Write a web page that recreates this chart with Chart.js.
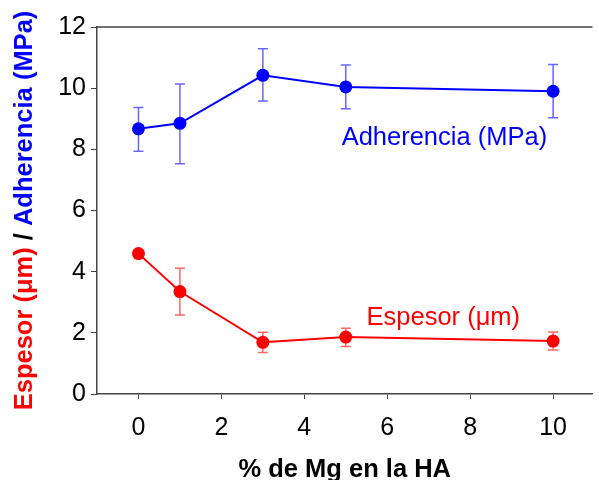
<!DOCTYPE html>
<html>
<head>
  <title>Espesor / Adherencia vs % Mg</title>
  <meta charset="UTF-8">
  <script src="https://cdn.jsdelivr.net/npm/chart.js"></script>
  <style>
    body {
      margin: 0;
      padding: 0;
      background-color: white;
    }
    #chart {
      display: block;
    }
  </style>
</head>
<body>
  <canvas id="chart" width="599" height="480"></canvas>

  <script>
    // Data
    const mgPct = [0, 1, 3, 5, 10];
    const adherencia = [8.67, 8.85, 10.42, 10.04, 9.90];
    const adherenciaHi = [9.37, 10.14, 11.29, 10.76, 10.77];
    const adherenciaLo = [7.94, 7.53, 9.58, 9.33, 9.03];
    const espesor = [4.59, 3.35, 1.69, 1.86, 1.73];
    const espesorHi = [null, 4.11, 2.02, 2.15, 2.03];
    const espesorLo = [null, 2.58, 1.36, 1.55, 1.44];
    const xTicks = [0, 2, 4, 6, 8, 10];
    const yTicks = [0, 2, 4, 6, 8, 10, 12];

    const BLUE = '#0000ff';
    const RED = '#ff0000';
    const FONT = 'Arial, "Liberation Sans", Helvetica, sans-serif';

    // error bars, frame line, series labels and the two-colour y title
    const extras = {
      id: 'extras',
      beforeDatasetsDraw(chart) {
        const ctx = chart.ctx;
        const xs = chart.scales.x, ys = chart.scales.y;
        const bars = [
          { hi: adherenciaHi, lo: adherenciaLo, color: 'rgba(0,0,255,0.6)' },
          { hi: espesorHi, lo: espesorLo, color: 'rgba(255,0,0,0.6)' }
        ];
        ctx.save();
        ctx.lineWidth = 1.5;
        bars.forEach(b => {
          ctx.strokeStyle = b.color;
          mgPct.forEach((m, i) => {
            if (b.hi[i] == null) return;
            const px = xs.getPixelForValue(m);
            const yh = ys.getPixelForValue(b.hi[i]);
            const yl = ys.getPixelForValue(b.lo[i]);
            ctx.beginPath();
            ctx.moveTo(px, yh); ctx.lineTo(px, yl);
            ctx.moveTo(px - 5, yh); ctx.lineTo(px + 5, yh);
            ctx.moveTo(px - 5, yl); ctx.lineTo(px + 5, yl);
            ctx.stroke();
          });
        });
        ctx.restore();
      },
      afterDraw(chart) {
        const ctx = chart.ctx;
        const area = chart.chartArea;
        const xs = chart.scales.x, ys = chart.scales.y;
        ctx.save();
        // top frame line
        ctx.strokeStyle = '#444';
        ctx.lineWidth = 1.5;
        ctx.beginPath();
        ctx.moveTo(area.left, area.top);
        ctx.lineTo(area.right, area.top);
        ctx.stroke();

        // series labels
        ctx.font = '25.5px ' + FONT;
        ctx.textAlign = 'left';
        ctx.textBaseline = 'alphabetic';
        ctx.fillStyle = BLUE;
        ctx.fillText('Adherencia (MPa)', xs.getPixelForValue(4.9), ys.getPixelForValue(8.14));
        ctx.fillStyle = RED;
        ctx.fillText('Espesor (\u03bcm)', xs.getPixelForValue(5.5), ys.getPixelForValue(2.26));

        // y axis title in two colours
        const parts = [
          ['Espesor (\u03bcm)', RED],
          [' / ', '#000'],
          ['Adherencia (MPa)', BLUE]
        ];
        ctx.font = 'bold 25.5px ' + FONT;
        const total = parts.reduce((s, p) => s + ctx.measureText(p[0]).width, 0);
        ctx.translate(25, (area.top + area.bottom) / 2);
        ctx.rotate(-Math.PI / 2);
        ctx.textBaseline = 'middle';
        let pos = -total / 2;
        parts.forEach(p => {
          ctx.fillStyle = p[1];
          ctx.fillText(p[0], pos, 0);
          pos += ctx.measureText(p[0]).width;
        });
        ctx.restore();
      }
    };

    new Chart(document.getElementById('chart'), {
      type: 'line',
      data: {
        datasets: [
          {
            label: 'Adherencia (MPa)',
            data: mgPct.map((m, i) => ({ x: m, y: adherencia[i] })),
            borderColor: BLUE,
            backgroundColor: BLUE,
            borderWidth: 2,
            pointRadius: 6.5,
            pointBorderWidth: 0
          },
          {
            label: 'Espesor (\u03bcm)',
            data: mgPct.map((m, i) => ({ x: m, y: espesor[i] })),
            borderColor: RED,
            backgroundColor: RED,
            borderWidth: 2,
            pointRadius: 6.5,
            pointBorderWidth: 0
          }
        ]
      },
      options: {
        responsive: false,
        animation: false,
        layout: { padding: { top: 27, left: 0, right: 0, bottom: 0 } },
        plugins: {
          legend: { display: false },
          tooltip: { enabled: false }
        },
        scales: {
          x: {
            type: 'linear',
            min: -1,
            max: 10.95,
            afterBuildTicks: s => { s.ticks = xTicks.map(v => ({ value: v })); },
            afterFit: s => { s.height = 86; },
            grid: { drawOnChartArea: false, drawTicks: true, tickLength: 5, color: '#444' },
            border: { display: true, color: '#444', width: 1.5 },
            ticks: { color: '#000', padding: 14, font: { family: FONT, size: 25 } },
            title: {
              display: true,
              text: '% de Mg en la HA',
              color: '#000',
              font: { family: FONT, size: 25.5, weight: 'bold', lineHeight: 1 },
              padding: { top: 0, bottom: -3 }
            }
          },
          y: {
            min: 0,
            max: 12,
            afterBuildTicks: s => { s.ticks = yTicks.map(v => ({ value: v })); },
            afterFit: s => { s.width = 97; },
            grid: { drawOnChartArea: false, drawTicks: true, tickLength: 6, color: '#444' },
            border: { display: true, color: '#444', width: 1.5 },
            ticks: { color: '#000', padding: 5, font: { family: FONT, size: 25 } }
          }
        }
      },
      plugins: [extras]
    });
  </script>
</body>
</html>
